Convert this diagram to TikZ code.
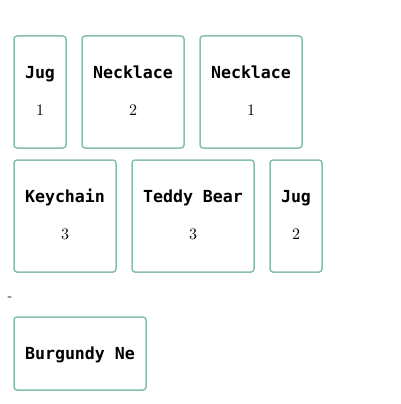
\documentclass[tikz,border=0pt]{standalone}
\usepackage{fontspec}
\newfontfamily\labfont{DejaVu Sans Mono}
\newfontfamily\numfont{lmroman10-regular.otf}
\definecolor{boxc}{HTML}{88C0A8}
\begin{document}
\begin{tikzpicture}[x=1pt,y=-1pt,
  card/.style={draw=boxc,line width=1.5pt,rounded corners=3pt,fill=white},
  lbltext/.style={font=\labfont\bfseries\fontsize{16.6}{18}\selectfont,inner sep=0pt,anchor=base},
  numtext/.style={font=\numfont\fontsize{16}{18}\selectfont,inner sep=0pt,anchor=base}]
\useasboundingbox[fill=white] (0,0) rectangle (400,404);
\draw[card] (14,36) rectangle (66,148);
\draw[card] (82,36) rectangle (184,148);
\draw[card] (200,36) rectangle (302,148);
\draw[card] (14,160) rectangle (116,272);
\draw[card] (132,160) rectangle (254,272);
\draw[card] (270,160) rectangle (322,272);
\draw[card] (14,317) rectangle (146,390);
\node[lbltext] (n1) at (40,78) {Jug};
\node[numtext] (v1) at (40,115.5) {1};
\node[lbltext] (n2) at (133,78) {Necklace};
\node[numtext] (v2) at (133,115.5) {2};
\node[lbltext] (n3) at (251,78) {Necklace};
\node[numtext] (v3) at (251,115.5) {1};
\node[lbltext] (n4) at (65,202) {Keychain};
\node[numtext] (v4) at (65,239.5) {3};
\node[lbltext] (n5) at (193,202) {Teddy Bear};
\node[numtext] (v5) at (193,239.5) {3};
\node[lbltext] (n6) at (296,202) {Jug};
\node[numtext] (v6) at (296,239.5) {2};
\node[lbltext] (n7) at (80,359) {Burgundy Ne};
\node[font=\numfont\fontsize{14}{16}\selectfont,inner sep=0pt,anchor=base] (dash) at (10,300) {-};
\end{tikzpicture}
\end{document}
